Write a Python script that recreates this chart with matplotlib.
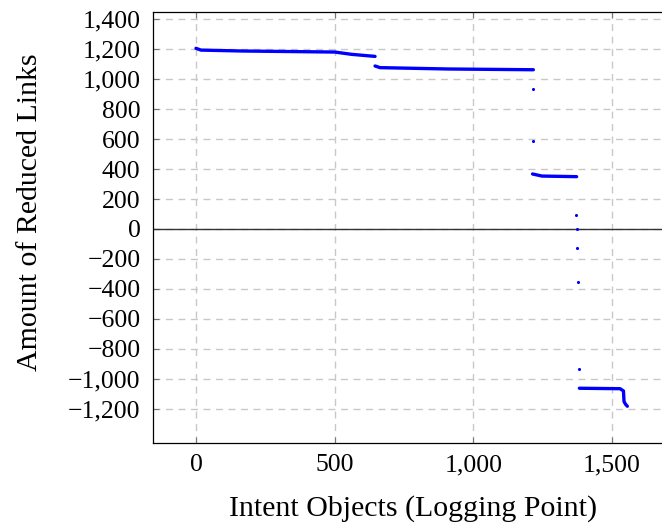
import matplotlib.pyplot as plt
from matplotlib.ticker import FuncFormatter

# dense runs of logging points, drawn as continuous traces (x, y breakpoints)
run_a_x = [0, 18, 165, 501, 560, 646]
run_a_y = [1205, 1193, 1187, 1180, 1165, 1151]
run_b_x = [646, 664, 909, 1217]
run_b_y = [1087, 1076, 1067, 1062]
run_c_x = [1214, 1248, 1373]
run_c_y = [367, 353, 349]
run_d_x = [1383, 1530, 1542, 1544, 1550, 1556]
run_d_y = [-1062, -1065, -1080, -1151, -1170, -1182]

# isolated logging points between the runs
single_x = [1215, 1216, 1372, 1375, 1376, 1378, 1381]
single_y = [936, 587, 91, 0, -124, -351, -935]

xticks = [0, 500, 1000, 1500]
yticks = list(range(-1200, 1401, 200))
BLUE = "#0000ff"

plt.rcParams['font.family'] = ['Liberation Serif', 'DejaVu Serif']

fig = plt.figure(figsize=(6.62, 5.29), dpi=100)
ax = fig.add_axes([0.2311, 0.1626, 0.7689, 0.8147])

for xs, ys in [(run_a_x, run_a_y), (run_b_x, run_b_y),
               (run_c_x, run_c_y), (run_d_x, run_d_y)]:
    ax.plot(xs, ys, color=BLUE, linewidth=2.4, solid_capstyle='round', zorder=3)
ax.scatter(single_x, single_y, s=5, color=BLUE, linewidths=0, zorder=3)

ax.axhline(0, color='#333333', linewidth=1.0, zorder=2)

ax.set_xlim(-155, 1681)
ax.set_ylim(-1427, 1447)
ax.set_xticks(xticks)
ax.set_yticks(yticks)

fmt = FuncFormatter(lambda v, _: f"{int(v):,}".replace('-', '\u2212'))
ax.xaxis.set_major_formatter(fmt)
ax.yaxis.set_major_formatter(fmt)

ax.grid(True, color='#c8c8c8', linestyle=(0, (5, 4)), linewidth=1.0, zorder=1)
ax.set_axisbelow(True)
ax.tick_params(direction='in', length=4, color='#777777', labelsize=18.5,
               top=True, right=False)
ax.tick_params(axis='x', pad=8)
ax.tick_params(axis='y', pad=9)
for side in ['left', 'top', 'bottom']:
    ax.spines[side].set_linewidth(0.9)
ax.spines['right'].set_visible(False)

ax.set_xlabel('Intent Objects (Logging Point)', fontsize=21.5)
ax.set_ylabel('Amount of Reduced Links', fontsize=21.5)
ax.xaxis.set_label_coords(0.51, -0.151)
ax.yaxis.set_label_coords(-0.242, 0.536)
ax.xaxis.label.set_va('center')
ax.yaxis.label.set_va('center')

fig.savefig('out.png', dpi=100)
